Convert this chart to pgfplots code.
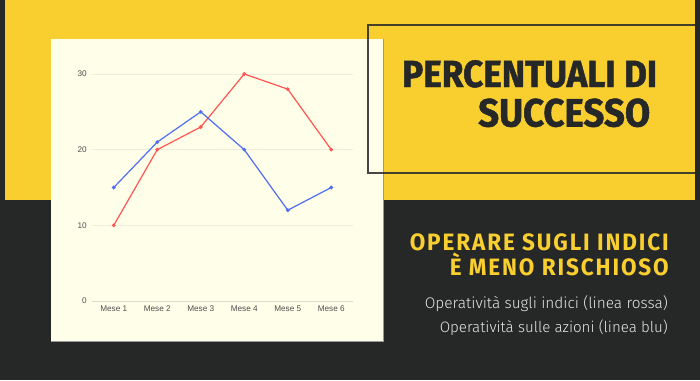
\documentclass[border=0pt]{standalone}
\usepackage{pgfplots}
\pgfplotsset{compat=1.18}
\usepackage{fontspec}
\setmainfont{Liberation Sans}
\newfontfamily\titlefont{Fira Sans}[FakeStretch=0.93, FakeBold=1.3]
\newfontfamily\subfont{Fira Sans}[LetterSpace=8, FakeStretch=0.95]
\newfontfamily\bodyfont{Fira Sans Light}
\newfontfamily\tickfont{Liberation Sans}
\definecolor{bgdark}{HTML}{262828}
\definecolor{ylw}{HTML}{F9CF30}
\definecolor{cream}{HTML}{FFFEE9}
\definecolor{redl}{HTML}{FF5555}
\definecolor{bluel}{HTML}{4F6EF5}
\definecolor{gridc}{HTML}{EEEEDA}
\definecolor{basec}{HTML}{DADACA}
\definecolor{tickc}{HTML}{505050}
\definecolor{bodyc}{HTML}{E6E6E6}
\begin{document}
\begin{tikzpicture}
\begin{scope}[x=1pt,y=-1pt]
\useasboundingbox (0,0) rectangle (700,380);
\fill[bgdark] (0,0) rectangle (700,380);
\fill[ylw] (5,0) rectangle (695,200);
\fill[cream] (51,39) rectangle (383,341);
\draw[black!40, line width=0.6pt] (51,341.3) -- (383.3,341.3) -- (383.3,39);
\draw[bgdark, line width=2.2pt, opacity=0.85] (368,25) rectangle (696,173);
\node[anchor=base west, inner sep=0pt, text=bgdark] at (402,87) {\resizebox{255pt}{!}{\titlefont\bfseries PERCENTUALI DI}};
\node[anchor=base west, inner sep=0pt, text=bgdark] at (478,126.5) {\resizebox{172pt}{!}{\titlefont\bfseries SUCCESSO}};
\node[anchor=base east, inner sep=0pt, text=ylw] at (669,250) {\resizebox{259pt}{!}{\subfont\bfseries OPERARE SUGLI INDICI}};
\node[anchor=base east, inner sep=0pt, text=ylw] at (669,275) {\resizebox{219pt}{!}{\subfont\bfseries È MENO RISCHIOSO}};
\node[anchor=base east, inner sep=0pt, text=bodyc] at (668,308.3) {\resizebox{243pt}{!}{\bodyfont Operatività sugli indici (linea rossa)}};
\node[anchor=base east, inner sep=0pt, text=bodyc] at (668,332.5) {\resizebox{228pt}{!}{\bodyfont Operatività sulle azioni (linea blu)}};
\end{scope}
\begin{axis}[at={(92pt,-301pt)}, anchor=south west, scale only axis,
  width=261pt, height=227pt, xmin=-0.5, xmax=5.5, ymin=0, ymax=30, clip=false,
  axis line style={draw=none}, tick style={draw=none},
  ymajorgrids, grid style={gridc, line width=0.7pt},
  xtick={0,1,2,3,4,5}, xticklabels={Mese 1,Mese 2,Mese 3,Mese 4,Mese 5,Mese 6},
  ytick={10,20,30}, extra y ticks={0}, extra y tick labels={0},
  extra y tick style={grid style={basec, line width=0.8pt}},
  /pgf/number format/assume math mode=true,
  tick label style={font=\tickfont\fontsize{8.2}{10}\selectfont, text=tickc},
  yticklabel style={inner sep=0pt, xshift=-5pt},
  xticklabel style={inner sep=0pt, yshift=-5pt}]
\addplot[redl, line width=1.2pt, mark=*, mark size=1.2pt] coordinates {(0,10)(1,20)(2,23)(3,30)(4,28)(5,20)};
\addplot[bluel, line width=1.2pt, mark=*, mark size=1.2pt] coordinates {(0,15)(1,21)(2,25)(3,20)(4,12)(5,15)};
\end{axis}
\end{tikzpicture}
\end{document}
